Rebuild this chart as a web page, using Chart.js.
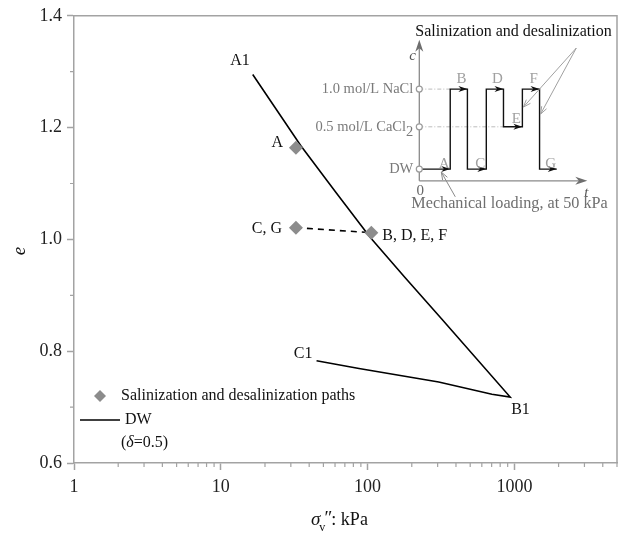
<!DOCTYPE html>
<html>
<head>
<meta charset="utf-8">
<script src="https://cdn.jsdelivr.net/npm/chart.js@4.4.0/dist/chart.umd.min.js"></script>
<style>
  html, body { margin: 0; padding: 0; background: #fff; }
</style>
</head>
<body>
<canvas id="chart" width="624" height="534"></canvas>
<script>
// DW compression curve: loading A1 -> B1, then unloading B1 -> C1
const dwStress = [16.5, 35, 60, 104, 181, 321, 936, 703, 305, 87.4, 44.9];
const dwVoid   = [1.295, 1.168, 1.086, 1.004, 0.931, 0.857, 0.718, 0.723, 0.745, 0.769, 0.783];
const dwNames  = { 0: 'A1', 6: 'B1', 10: 'C1' };

// states reached along the salinization / desalinization paths
const pathNames  = ['A', 'B, D, E, F', 'C, G'];
const pathStress = [32.5, 106, 32.5];
const pathVoid   = [1.164, 1.012, 1.021];

const xTicks = [1, 10, 100, 1000];
const yTicks = [0.6, 0.8, 1.0, 1.2, 1.4];
const yMinor = [0.7, 0.9, 1.1, 1.3];

// inset: pore fluid concentration vs time
const stepNames  = ['A', 'B', 'C', 'D', 'E', 'F', 'G'];
const stepEdges  = [0, 1.8, 2.8, 3.9, 4.9, 6.0, 7.0, 8.0];
const stepLevel  = [0, 2, 0, 2, 1, 2, 0];
const levelNames = ['DW', '0.5 mol/L CaCl', '1.0 mol/L NaCl'];
const levelSubs  = ['', '2', ''];

const SERIF = "'Liberation Serif', 'Times New Roman', serif";
const AXIS_GREY = '#a3a3a3';
const MARK_GREY = '#8c8c8c';

function solidHead(ctx, x, y, ang, len, half, color) {
  ctx.save();
  ctx.translate(x, y);
  ctx.rotate(ang);
  ctx.fillStyle = color;
  ctx.beginPath();
  ctx.moveTo(0, 0);
  ctx.lineTo(-len, -half);
  ctx.lineTo(-len * 0.7, 0);
  ctx.lineTo(-len, half);
  ctx.closePath();
  ctx.fill();
  ctx.restore();
}

function pointer(ctx, x1, y1, x2, y2, color) {
  const ang = Math.atan2(y2 - y1, x2 - x1);
  ctx.save();
  ctx.strokeStyle = color;
  ctx.lineWidth = 1;
  ctx.beginPath();
  ctx.moveTo(x1, y1);
  ctx.lineTo(x2, y2);
  ctx.moveTo(x2 - 8 * Math.cos(ang - 0.35), y2 - 8 * Math.sin(ang - 0.35));
  ctx.lineTo(x2, y2);
  ctx.lineTo(x2 - 8 * Math.cos(ang + 0.35), y2 - 8 * Math.sin(ang + 0.35));
  ctx.stroke();
  ctx.restore();
}

function text(ctx, str, x, y, opts) {
  const o = opts || {};
  ctx.save();
  ctx.font = (o.style || '') + ' ' + (o.size || 16) + 'px ' + SERIF;
  ctx.fillStyle = o.color || '#111';
  ctx.textAlign = o.align || 'left';
  ctx.textBaseline = o.base || 'middle';
  ctx.fillText(str, x, y);
  const w = ctx.measureText(str).width;
  ctx.restore();
  return w;
}

const decorations = {
  id: 'decorations',
  afterDraw(chart) {
    const ctx = chart.ctx;
    const ca = chart.chartArea;
    const xs = chart.scales.x, ys = chart.scales.y;

    // frame on top and right
    ctx.save();
    ctx.strokeStyle = AXIS_GREY;
    ctx.lineWidth = 1.5;
    ctx.beginPath();
    ctx.moveTo(ca.left, ca.top);
    ctx.lineTo(ca.right, ca.top);
    ctx.lineTo(ca.right, ca.bottom);
    ctx.stroke();

    // minor ticks
    ctx.lineWidth = 1.2;
    ctx.beginPath();
    xTicks.forEach(d => {
      for (let k = 2; k <= 9; k++) {
        const v = k * d;
        if (v > xs.max) break;
        const px = xs.getPixelForValue(v);
        ctx.moveTo(px, ca.bottom);
        ctx.lineTo(px, ca.bottom + 4);
      }
    });
    yMinor.forEach(v => {
      const py = ys.getPixelForValue(v);
      ctx.moveTo(ca.left - 4, py);
      ctx.lineTo(ca.left, py);
    });
    ctx.stroke();
    ctx.restore();

    // axis titles
    ctx.save();
    ctx.translate(20, 251);
    ctx.rotate(-Math.PI / 2);
    text(ctx, 'e', 0, 0, { style: 'italic', size: 19, align: 'center' });
    ctx.restore();
    let tx0 = 311;
    tx0 += text(ctx, 'σ', tx0, 525, { style: 'italic', size: 19, base: 'alphabetic' });
    text(ctx, 'v', tx0 - 1, 531, { size: 12, base: 'alphabetic' });
    text(ctx, '″', tx0 + 3, 524, { style: 'italic', size: 19, base: 'alphabetic' });
    text(ctx, ': kPa', tx0 + 11, 525, { size: 18, base: 'alphabetic' });

    // curve end labels
    const dwMeta = chart.getDatasetMeta(0).data;
    const a1 = dwMeta[0], b1 = dwMeta[6], c1 = dwMeta[10];
    text(ctx, dwNames[0], a1.x - 3, a1.y - 14, { align: 'right' });
    text(ctx, dwNames[6], b1.x + 1, b1.y + 13);
    text(ctx, dwNames[10], c1.x - 4, c1.y - 7, { align: 'right' });

    // path state labels
    const pm = chart.getDatasetMeta(2).data;
    text(ctx, pathNames[0], pm[0].x - 13, pm[0].y - 5, { align: 'right' });
    text(ctx, pathNames[1], pm[1].x + 11, pm[1].y + 3);
    text(ctx, pathNames[2], pm[2].x - 14, pm[2].y + 1, { align: 'right' });

    // legend
    const lx = ca.left + 26, ly = 396;
    ctx.save();
    ctx.fillStyle = MARK_GREY;
    ctx.beginPath();
    ctx.moveTo(lx, ly - 6); ctx.lineTo(lx + 6, ly); ctx.lineTo(lx, ly + 6); ctx.lineTo(lx - 6, ly);
    ctx.closePath();
    ctx.fill();
    ctx.strokeStyle = '#000';
    ctx.lineWidth = 1.6;
    ctx.beginPath();
    ctx.moveTo(ca.left + 6, 420);
    ctx.lineTo(ca.left + 46, 420);
    ctx.stroke();
    ctx.restore();
    text(ctx, 'Salinization and desalinization paths', lx + 21, ly);
    text(ctx, 'DW', ca.left + 51, 420);
    let dx = ca.left + 47;
    dx += text(ctx, '(', dx, 443);
    dx += text(ctx, 'δ', dx, 443, { style: 'italic' });
    text(ctx, '=0.5)', dx, 443);

    // inset schematic
    const x0 = ca.left + 345.3, y0 = ca.top + 165, unit = 17.18;
    const levelY = [11.7, 54, 91.7];
    const labelLift = [1, 4, 6];
    const tx = t => x0 + t * unit;
    const lv = l => y0 - levelY[l];

    ctx.save();
    // guide lines
    ctx.strokeStyle = '#bdbdbd';
    ctx.lineWidth = 1;
    ctx.setLineDash([4, 2, 1, 2]);
    ctx.beginPath();
    ctx.moveTo(x0, lv(2)); ctx.lineTo(tx(stepEdges[1]), lv(2));
    ctx.moveTo(x0, lv(1)); ctx.lineTo(tx(stepEdges[4]), lv(1));
    ctx.stroke();
    ctx.setLineDash([]);

    // c and t axes
    ctx.strokeStyle = '#8a8a8a';
    ctx.lineWidth = 1.3;
    ctx.beginPath();
    ctx.moveTo(x0, y0); ctx.lineTo(x0, y0 - 134);
    ctx.moveTo(x0, y0); ctx.lineTo(x0 + 162, y0);
    ctx.stroke();
    solidHead(ctx, x0, y0 - 141, -Math.PI / 2, 12, 4, '#6e6e6e');
    solidHead(ctx, x0 + 168, y0, 0, 12, 4, '#6e6e6e');

    // concentration steps
    ctx.strokeStyle = '#111';
    ctx.lineWidth = 1.4;
    ctx.beginPath();
    ctx.moveTo(tx(stepEdges[0]), lv(stepLevel[0]));
    for (let i = 0; i < stepLevel.length; i++) {
      ctx.lineTo(tx(stepEdges[i + 1]), lv(stepLevel[i]));
      if (i + 1 < stepLevel.length) ctx.lineTo(tx(stepEdges[i + 1]), lv(stepLevel[i + 1]));
    }
    ctx.stroke();
    for (let i = 0; i < stepLevel.length; i++) {
      solidHead(ctx, tx(stepEdges[i + 1]), lv(stepLevel[i]), 0, 9, 3, '#111');
      text(ctx, stepNames[i], tx(stepEdges[i + 1]) - 6, lv(stepLevel[i]) - labelLift[stepLevel[i]],
        { size: 15, color: '#a0a0a0', align: 'center', base: 'alphabetic' });
    }

    // level markers and names
    ctx.strokeStyle = '#9a9a9a';
    ctx.fillStyle = '#fff';
    ctx.lineWidth = 1.2;
    levelNames.forEach((name, l) => {
      ctx.beginPath();
      ctx.arc(x0, lv(l), 3, 0, Math.PI * 2);
      ctx.fill();
      ctx.stroke();
      let right = x0 - 6;
      if (levelSubs[l]) {
        ctx.font = '14.5px ' + SERIF;
        const w = ctx.measureText(levelSubs[l]).width;
        right -= w;
        text(ctx, levelSubs[l], right, lv(l) + 5, { size: 14.5, color: '#7a7a7a' });
      }
      text(ctx, name, right, lv(l), { size: 14.5, color: '#7a7a7a', align: 'right' });
    });
    ctx.restore();

    text(ctx, 'c', x0 - 10, y0 - 125, { style: 'italic', size: 15, color: '#555' });
    text(ctx, '0', x0 + 1, y0 + 10, { size: 15, color: '#666', align: 'center' });
    text(ctx, 't', x0 + 167, y0 + 12, { style: 'italic', size: 15, color: '#555', align: 'center' });

    text(ctx, 'Salinization and desalinization', x0 - 4, 32, { size: 16 });
    pointer(ctx, x0 + 157, 48, tx(stepEdges[5]) + 1, lv(2) + 18, '#a0a0a0');
    pointer(ctx, x0 + 157, 48, tx(stepEdges[6]) + 1, lv(2) + 25, '#a0a0a0');

    text(ctx, 'Mechanical loading, at 50 kPa', x0 - 8, y0 + 23, { size: 16.2, color: '#6f6f6f' });
    pointer(ctx, x0 + 36, y0 + 16, x0 + 22, lv(0) + 3, '#8a8a8a');
  }
};

new Chart(document.getElementById('chart'), {
  type: 'scatter',
  data: {
    datasets: [
      {
        label: 'DW',
        data: dwStress.map((x, i) => ({ x, y: dwVoid[i] })),
        showLine: true,
        borderColor: '#000',
        borderWidth: 1.6,
        pointRadius: 0,
        order: 3
      },
      {
        label: 'C, G to B',
        data: [2, 1].map(i => ({ x: pathStress[i], y: pathVoid[i] })),
        showLine: true,
        borderColor: '#000',
        borderWidth: 1.6,
        borderDash: [6, 5],
        pointRadius: 0,
        order: 2
      },
      {
        label: 'Salinization and desalinization paths',
        data: pathStress.map((x, i) => ({ x, y: pathVoid[i] })),
        pointStyle: 'rectRot',
        pointRadius: 7,
        backgroundColor: MARK_GREY,
        borderWidth: 0,
        order: 1
      }
    ]
  },
  options: {
    responsive: false,
    animation: false,
    layout: { padding: { top: 15, right: 6, left: 0, bottom: 0 } },
    plugins: { legend: { display: false }, tooltip: { enabled: false } },
    scales: {
      x: {
        type: 'logarithmic',
        min: 1,
        max: 5000,
        afterBuildTicks: s => { s.ticks = xTicks.map(v => ({ value: v })); },
        afterFit: s => { s.height = 71; },
        ticks: {
          color: '#222',
          font: { family: SERIF, size: 18 },
          padding: 6,
          autoSkip: false,
          maxRotation: 0,
          callback: v => String(v)
        },
        grid: { drawOnChartArea: false, tickLength: 7, tickColor: AXIS_GREY, tickWidth: 1.5 },
        border: { color: AXIS_GREY, width: 1.5 }
      },
      y: {
        min: 0.6,
        max: 1.4,
        afterBuildTicks: s => { s.ticks = yTicks.map(v => ({ value: v })); },
        afterFit: s => { s.width = 74; },
        ticks: {
          color: '#222',
          font: { family: SERIF, size: 18 },
          padding: 5,
          callback: v => v.toFixed(1)
        },
        grid: { drawOnChartArea: false, tickLength: 7, tickColor: AXIS_GREY, tickWidth: 1.5 },
        border: { color: AXIS_GREY, width: 1.5 }
      }
    }
  },
  plugins: [decorations]
});
</script>
</body>
</html>
